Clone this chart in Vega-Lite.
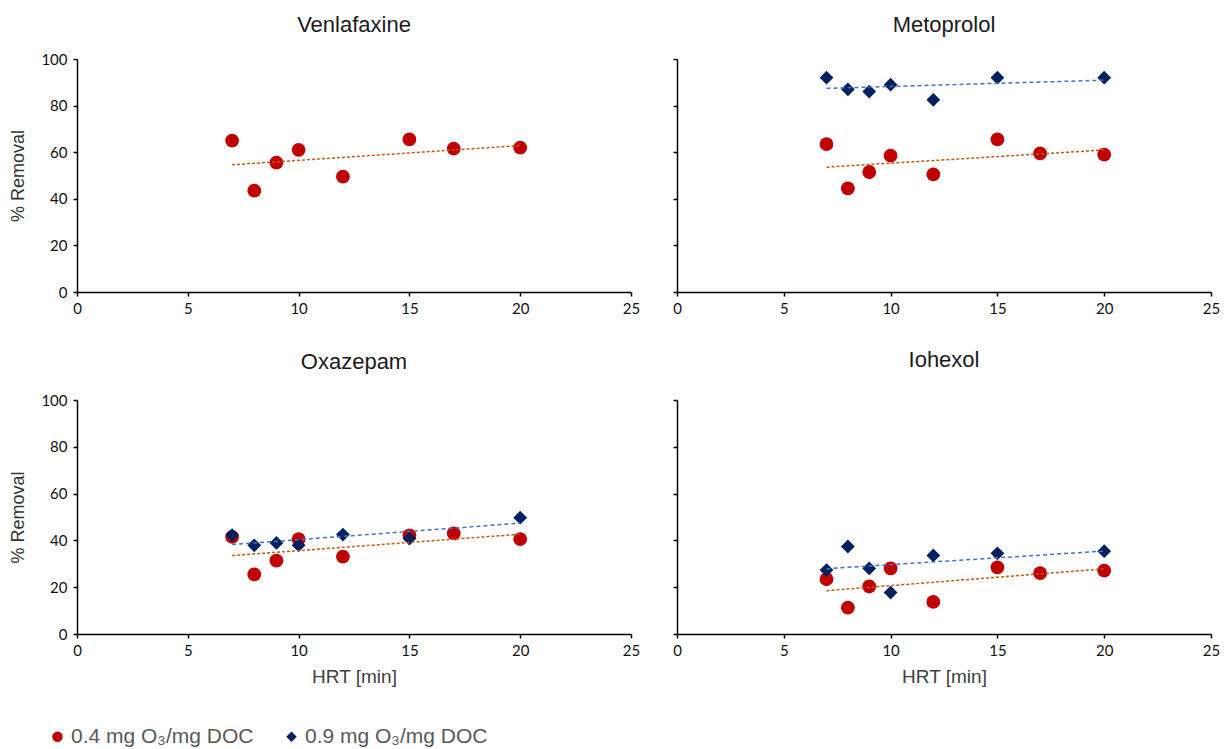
{
  "$schema": "https://vega.github.io/schema/vega-lite/v6.json",
  "padding": {"left": 9, "top": 14, "right": 5, "bottom": 5},
  "background": "white",
  "datasets": {
    "d": [
      {"panel": "Venlafaxine", "series": "0.4 mg O₃/mg DOC", "hrt": 7, "removal": 65},
      {"panel": "Venlafaxine", "series": "0.4 mg O₃/mg DOC", "hrt": 8, "removal": 43.5},
      {"panel": "Venlafaxine", "series": "0.4 mg O₃/mg DOC", "hrt": 9, "removal": 55.5},
      {"panel": "Venlafaxine", "series": "0.4 mg O₃/mg DOC", "hrt": 10, "removal": 61},
      {"panel": "Venlafaxine", "series": "0.4 mg O₃/mg DOC", "hrt": 12, "removal": 49.5},
      {"panel": "Venlafaxine", "series": "0.4 mg O₃/mg DOC", "hrt": 15, "removal": 65.5},
      {"panel": "Venlafaxine", "series": "0.4 mg O₃/mg DOC", "hrt": 17, "removal": 61.5},
      {"panel": "Venlafaxine", "series": "0.4 mg O₃/mg DOC", "hrt": 20, "removal": 62},
      {"panel": "Metoprolol", "series": "0.4 mg O₃/mg DOC", "hrt": 7, "removal": 63.5},
      {"panel": "Metoprolol", "series": "0.4 mg O₃/mg DOC", "hrt": 8, "removal": 44.5},
      {"panel": "Metoprolol", "series": "0.4 mg O₃/mg DOC", "hrt": 9, "removal": 51.5},
      {"panel": "Metoprolol", "series": "0.4 mg O₃/mg DOC", "hrt": 10, "removal": 58.5},
      {"panel": "Metoprolol", "series": "0.4 mg O₃/mg DOC", "hrt": 12, "removal": 50.5},
      {"panel": "Metoprolol", "series": "0.4 mg O₃/mg DOC", "hrt": 15, "removal": 65.5},
      {"panel": "Metoprolol", "series": "0.4 mg O₃/mg DOC", "hrt": 17, "removal": 59.5},
      {"panel": "Metoprolol", "series": "0.4 mg O₃/mg DOC", "hrt": 20, "removal": 59},
      {"panel": "Oxazepam", "series": "0.4 mg O₃/mg DOC", "hrt": 7, "removal": 41.5},
      {"panel": "Oxazepam", "series": "0.4 mg O₃/mg DOC", "hrt": 8, "removal": 25.5},
      {"panel": "Oxazepam", "series": "0.4 mg O₃/mg DOC", "hrt": 9, "removal": 31.4},
      {"panel": "Oxazepam", "series": "0.4 mg O₃/mg DOC", "hrt": 10, "removal": 40.5},
      {"panel": "Oxazepam", "series": "0.4 mg O₃/mg DOC", "hrt": 12, "removal": 33.1},
      {"panel": "Oxazepam", "series": "0.4 mg O₃/mg DOC", "hrt": 15, "removal": 42.1},
      {"panel": "Oxazepam", "series": "0.4 mg O₃/mg DOC", "hrt": 17, "removal": 43},
      {"panel": "Oxazepam", "series": "0.4 mg O₃/mg DOC", "hrt": 20, "removal": 40.5},
      {"panel": "Iohexol", "series": "0.4 mg O₃/mg DOC", "hrt": 7, "removal": 23.4},
      {"panel": "Iohexol", "series": "0.4 mg O₃/mg DOC", "hrt": 8, "removal": 11.3},
      {"panel": "Iohexol", "series": "0.4 mg O₃/mg DOC", "hrt": 9, "removal": 20.3},
      {"panel": "Iohexol", "series": "0.4 mg O₃/mg DOC", "hrt": 10, "removal": 28},
      {"panel": "Iohexol", "series": "0.4 mg O₃/mg DOC", "hrt": 12, "removal": 13.7},
      {"panel": "Iohexol", "series": "0.4 mg O₃/mg DOC", "hrt": 15, "removal": 28.5},
      {"panel": "Iohexol", "series": "0.4 mg O₃/mg DOC", "hrt": 17, "removal": 26},
      {"panel": "Iohexol", "series": "0.4 mg O₃/mg DOC", "hrt": 20, "removal": 27.1},
      {"panel": "Metoprolol", "series": "0.9 mg O₃/mg DOC", "hrt": 7, "removal": 92},
      {"panel": "Metoprolol", "series": "0.9 mg O₃/mg DOC", "hrt": 8, "removal": 87},
      {"panel": "Metoprolol", "series": "0.9 mg O₃/mg DOC", "hrt": 9, "removal": 86},
      {"panel": "Metoprolol", "series": "0.9 mg O₃/mg DOC", "hrt": 10, "removal": 89},
      {"panel": "Metoprolol", "series": "0.9 mg O₃/mg DOC", "hrt": 12, "removal": 82.5},
      {"panel": "Metoprolol", "series": "0.9 mg O₃/mg DOC", "hrt": 15, "removal": 92},
      {"panel": "Metoprolol", "series": "0.9 mg O₃/mg DOC", "hrt": 20, "removal": 92},
      {"panel": "Oxazepam", "series": "0.9 mg O₃/mg DOC", "hrt": 7, "removal": 42.3},
      {"panel": "Oxazepam", "series": "0.9 mg O₃/mg DOC", "hrt": 8, "removal": 37.9},
      {"panel": "Oxazepam", "series": "0.9 mg O₃/mg DOC", "hrt": 9, "removal": 38.9},
      {"panel": "Oxazepam", "series": "0.9 mg O₃/mg DOC", "hrt": 10, "removal": 37.9},
      {"panel": "Oxazepam", "series": "0.9 mg O₃/mg DOC", "hrt": 12, "removal": 42.5},
      {"panel": "Oxazepam", "series": "0.9 mg O₃/mg DOC", "hrt": 15, "removal": 40.8},
      {"panel": "Oxazepam", "series": "0.9 mg O₃/mg DOC", "hrt": 20, "removal": 49.7},
      {"panel": "Iohexol", "series": "0.9 mg O₃/mg DOC", "hrt": 7, "removal": 27.3},
      {"panel": "Iohexol", "series": "0.9 mg O₃/mg DOC", "hrt": 8, "removal": 37.4},
      {"panel": "Iohexol", "series": "0.9 mg O₃/mg DOC", "hrt": 9, "removal": 28},
      {"panel": "Iohexol", "series": "0.9 mg O₃/mg DOC", "hrt": 10, "removal": 17.7},
      {"panel": "Iohexol", "series": "0.9 mg O₃/mg DOC", "hrt": 12, "removal": 33.6},
      {"panel": "Iohexol", "series": "0.9 mg O₃/mg DOC", "hrt": 15, "removal": 34.5},
      {"panel": "Iohexol", "series": "0.9 mg O₃/mg DOC", "hrt": 20, "removal": 35.4}
    ]
  },
  "config": {
    "view": {"stroke": null},
    "axis": {
      "grid": false,
      "domainColor": "#000000",
      "domainWidth": 1.5,
      "tickColor": "#000000",
      "tickWidth": 1.5,
      "tickSize": 4,
      "labelFont": "Lato",
      "labelFontSize": 15,
      "labelColor": "#111111",
      "labelFlush": false,
      "titleFont": "Liberation Sans",
      "titleFontWeight": "normal"
    },
    "axisX": {"titlePadding": 9, "labelPadding": 5, "titleFontSize": 19, "titleColor": "#404040"},
    "axisY": {"titlePadding": 13, "labelPadding": 6, "titleFontSize": 18, "titleColor": "#333333"},
    "title": {"font": "Liberation Sans", "fontSize": 22, "fontWeight": "normal", "color": "#1a1a1a", "offset": 22, "frame": "group"},
    "legend": {
      "labelFont": "Liberation Sans",
      "labelFontSize": 21,
      "labelColor": "#595959",
      "labelLimit": 0,
      "symbolSize": 110,
      "symbolStrokeWidth": 0,
      "columnPadding": 27,
      "labelOffset": 3
    }
  },
  "bounds": "flush",
  "columns": 2,
  "spacing": {"row": 108, "column": 46},
  "concat": [
    {
      "title": {"text": "Venlafaxine", "dy": 7},
      "width": 554,
      "height": 233,
      "data": {"name": "d"},
      "transform": [{"filter": "datum.panel === 'Venlafaxine'"}],
      "layer": [
        {
          "mark": {"type": "point", "filled": true, "size": 190, "opacity": 1},
          "encoding": {
            "x": {"field": "hrt", "type": "quantitative", "scale": {"domain": [0, 25], "nice": false}, "axis": {"title": null, "values": [0, 5, 10, 15, 20, 25]}},
            "y": {"field": "removal", "type": "quantitative", "scale": {"domain": [0, 100], "nice": false}, "axis": {"title": "% Removal", "values": [0, 20, 40, 60, 80, 100]}},
            "color": {"field": "series", "type": "nominal", "scale": {"domain": ["0.4 mg O₃/mg DOC", "0.9 mg O₃/mg DOC"], "range": ["#C00000", "#002060"]}, "legend": {"title": null, "orient": "none", "direction": "horizontal", "legendX": -30, "legendY": 667}},
            "shape": {"field": "series", "type": "nominal", "scale": {"domain": ["0.4 mg O₃/mg DOC", "0.9 mg O₃/mg DOC"], "range": ["circle", "diamond"]}, "legend": {"title": null, "orient": "none", "direction": "horizontal", "legendX": -30, "legendY": 667}}
          }
        },
        {
          "transform": [{"filter": "datum.series === '0.4 mg O₃/mg DOC'"}, {"regression": "removal", "on": "hrt"}],
          "mark": {"type": "line", "color": "#C55A11", "strokeDash": [3, 2], "strokeWidth": 1.5},
          "encoding": {"x": {"field": "hrt", "type": "quantitative"}, "y": {"field": "removal", "type": "quantitative"}}
        }
      ]
    },
    {
      "title": {"text": "Metoprolol", "dy": 1},
      "width": 534,
      "height": 233,
      "data": {"name": "d"},
      "transform": [{"filter": "datum.panel === 'Metoprolol'"}],
      "layer": [
        {
          "mark": {"type": "point", "filled": true, "size": 190, "opacity": 1},
          "encoding": {
            "x": {"field": "hrt", "type": "quantitative", "scale": {"domain": [0, 25], "nice": false}, "axis": {"title": null, "values": [0, 5, 10, 15, 20, 25]}},
            "y": {"field": "removal", "type": "quantitative", "scale": {"domain": [0, 100], "nice": false}, "axis": {"title": null, "labels": false, "values": [0, 20, 40, 60, 80, 100]}},
            "color": {"field": "series", "type": "nominal", "scale": {"domain": ["0.4 mg O₃/mg DOC", "0.9 mg O₃/mg DOC"], "range": ["#C00000", "#002060"]}, "legend": {"title": null, "orient": "none", "direction": "horizontal", "legendX": -30, "legendY": 667}},
            "shape": {"field": "series", "type": "nominal", "scale": {"domain": ["0.4 mg O₃/mg DOC", "0.9 mg O₃/mg DOC"], "range": ["circle", "diamond"]}, "legend": {"title": null, "orient": "none", "direction": "horizontal", "legendX": -30, "legendY": 667}}
          }
        },
        {
          "transform": [{"filter": "datum.series === '0.4 mg O₃/mg DOC'"}, {"regression": "removal", "on": "hrt"}],
          "mark": {"type": "line", "color": "#C55A11", "strokeDash": [3, 2], "strokeWidth": 1.5},
          "encoding": {"x": {"field": "hrt", "type": "quantitative"}, "y": {"field": "removal", "type": "quantitative"}}
        },
        {
          "transform": [{"filter": "datum.series === '0.9 mg O₃/mg DOC'"}, {"regression": "removal", "on": "hrt"}],
          "mark": {"type": "line", "color": "#4472C4", "strokeDash": [4, 3], "strokeWidth": 1.5},
          "encoding": {"x": {"field": "hrt", "type": "quantitative"}, "y": {"field": "removal", "type": "quantitative"}}
        }
      ]
    },
    {
      "title": {"text": "Oxazepam", "dy": 3},
      "width": 554,
      "height": 234,
      "data": {"name": "d"},
      "transform": [{"filter": "datum.panel === 'Oxazepam'"}],
      "layer": [
        {
          "mark": {"type": "point", "filled": true, "size": 190, "opacity": 1},
          "encoding": {
            "x": {"field": "hrt", "type": "quantitative", "scale": {"domain": [0, 25], "nice": false}, "axis": {"title": "HRT [min]", "values": [0, 5, 10, 15, 20, 25]}},
            "y": {"field": "removal", "type": "quantitative", "scale": {"domain": [0, 100], "nice": false}, "axis": {"title": "% Removal", "values": [0, 20, 40, 60, 80, 100]}},
            "color": {"field": "series", "type": "nominal", "scale": {"domain": ["0.4 mg O₃/mg DOC", "0.9 mg O₃/mg DOC"], "range": ["#C00000", "#002060"]}, "legend": {"title": null, "orient": "none", "direction": "horizontal", "legendX": -30, "legendY": 667}},
            "shape": {"field": "series", "type": "nominal", "scale": {"domain": ["0.4 mg O₃/mg DOC", "0.9 mg O₃/mg DOC"], "range": ["circle", "diamond"]}, "legend": {"title": null, "orient": "none", "direction": "horizontal", "legendX": -30, "legendY": 667}}
          }
        },
        {
          "transform": [{"filter": "datum.series === '0.4 mg O₃/mg DOC'"}, {"regression": "removal", "on": "hrt"}],
          "mark": {"type": "line", "color": "#C55A11", "strokeDash": [3, 2], "strokeWidth": 1.5},
          "encoding": {"x": {"field": "hrt", "type": "quantitative"}, "y": {"field": "removal", "type": "quantitative"}}
        },
        {
          "transform": [{"filter": "datum.series === '0.9 mg O₃/mg DOC'"}, {"regression": "removal", "on": "hrt"}],
          "mark": {"type": "line", "color": "#4472C4", "strokeDash": [4, 3], "strokeWidth": 1.5},
          "encoding": {"x": {"field": "hrt", "type": "quantitative"}, "y": {"field": "removal", "type": "quantitative"}}
        }
      ]
    },
    {
      "title": {"text": "Iohexol", "dy": -5},
      "width": 534,
      "height": 234,
      "data": {"name": "d"},
      "transform": [{"filter": "datum.panel === 'Iohexol'"}],
      "layer": [
        {
          "mark": {"type": "point", "filled": true, "size": 190, "opacity": 1},
          "encoding": {
            "x": {"field": "hrt", "type": "quantitative", "scale": {"domain": [0, 25], "nice": false}, "axis": {"title": "HRT [min]", "values": [0, 5, 10, 15, 20, 25]}},
            "y": {"field": "removal", "type": "quantitative", "scale": {"domain": [0, 100], "nice": false}, "axis": {"title": null, "labels": false, "values": [0, 20, 40, 60, 80, 100]}},
            "color": {"field": "series", "type": "nominal", "scale": {"domain": ["0.4 mg O₃/mg DOC", "0.9 mg O₃/mg DOC"], "range": ["#C00000", "#002060"]}, "legend": {"title": null, "orient": "none", "direction": "horizontal", "legendX": -30, "legendY": 667}},
            "shape": {"field": "series", "type": "nominal", "scale": {"domain": ["0.4 mg O₃/mg DOC", "0.9 mg O₃/mg DOC"], "range": ["circle", "diamond"]}, "legend": {"title": null, "orient": "none", "direction": "horizontal", "legendX": -30, "legendY": 667}}
          }
        },
        {
          "transform": [{"filter": "datum.series === '0.4 mg O₃/mg DOC'"}, {"regression": "removal", "on": "hrt"}],
          "mark": {"type": "line", "color": "#C55A11", "strokeDash": [3, 2], "strokeWidth": 1.5},
          "encoding": {"x": {"field": "hrt", "type": "quantitative"}, "y": {"field": "removal", "type": "quantitative"}}
        },
        {
          "transform": [{"filter": "datum.series === '0.9 mg O₃/mg DOC'"}, {"regression": "removal", "on": "hrt"}],
          "mark": {"type": "line", "color": "#4472C4", "strokeDash": [4, 3], "strokeWidth": 1.5},
          "encoding": {"x": {"field": "hrt", "type": "quantitative"}, "y": {"field": "removal", "type": "quantitative"}}
        }
      ]
    }
  ],
  "resolve": {"scale": {"color": "shared", "shape": "shared"}}
}
